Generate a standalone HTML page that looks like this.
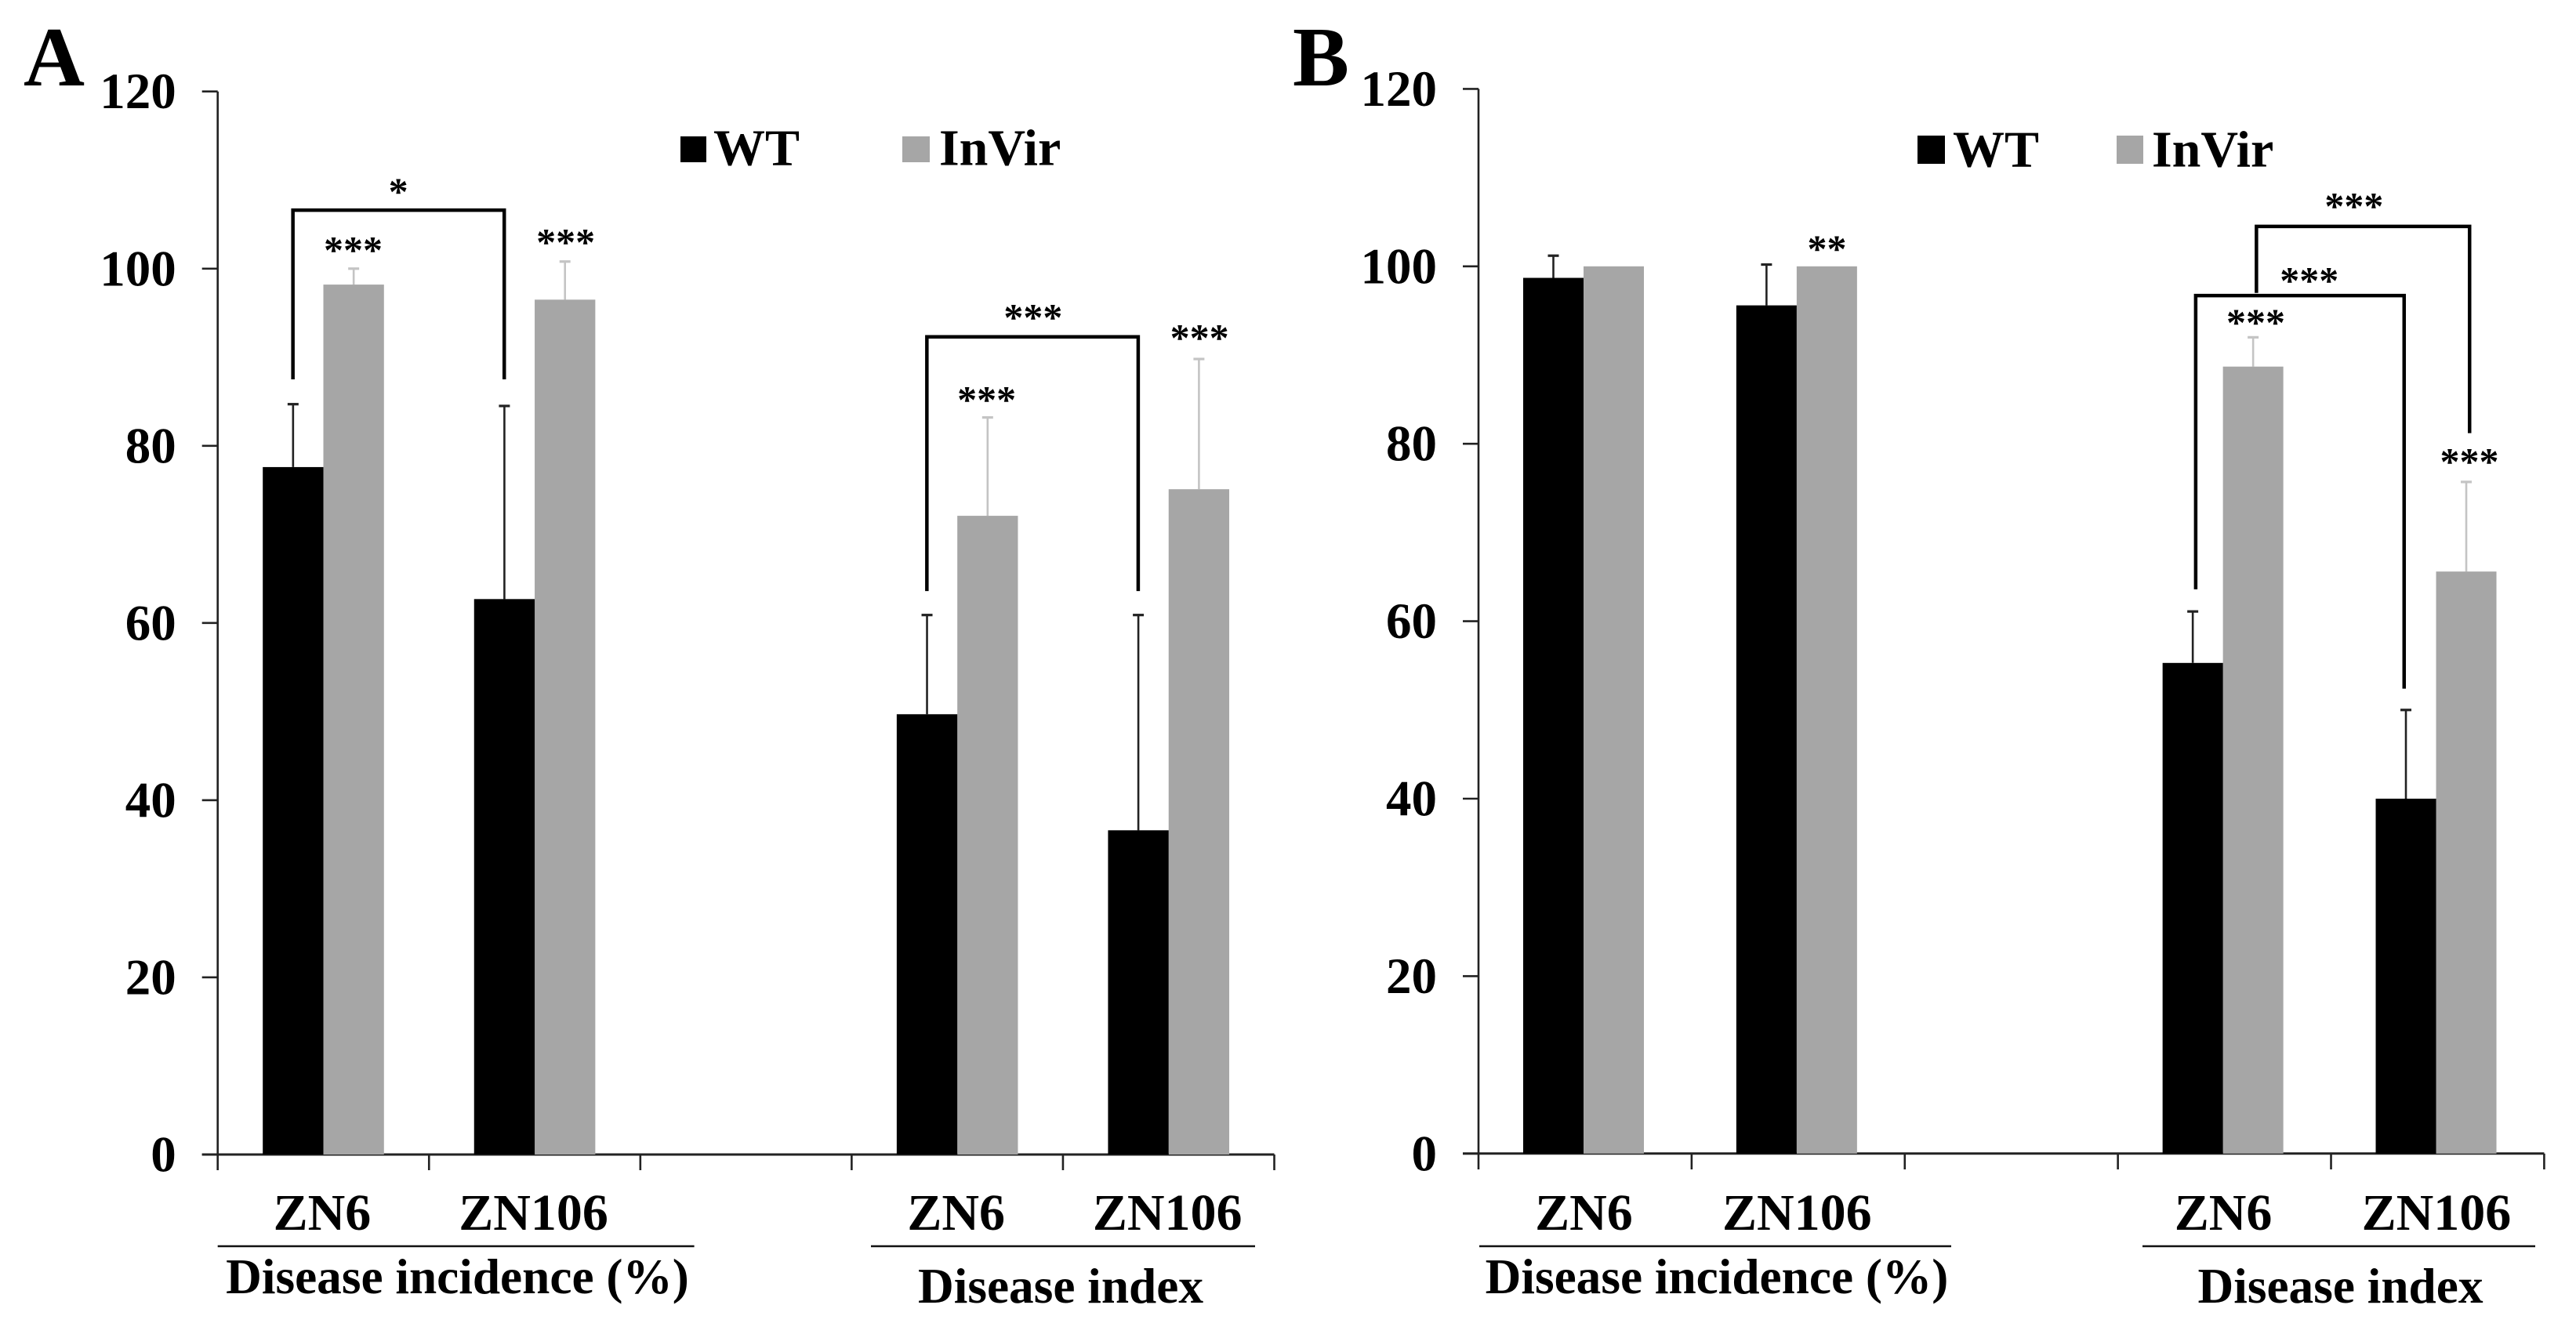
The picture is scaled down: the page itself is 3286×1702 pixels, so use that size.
<!DOCTYPE html>
<html lang="en">
<head>
<meta charset="utf-8">
<title>Disease incidence and disease index, WT vs InVir</title>
<style>
  html, body { margin: 0; padding: 0; background: #fff; }
  svg { display: block; }
  text { font-family: "Liberation Serif", serif; fill: #000; font-weight: bold; }
  .big { font-size: 66px; }
  .title { font-size: 63.3px; }
  .letter { font-size: 108px; }
</style>
</head>
<body>
<svg id="figure" xmlns="http://www.w3.org/2000/svg" width="3286" height="1702" viewBox="0 0 3286 1702">
  <rect x="0" y="0" width="3286" height="1702" fill="#fff"/>
  <text class="letter" x="30" y="109">A</text>
  <text class="letter" x="1649" y="109">B</text>

  <g>
    <rect x="868" y="174" width="33" height="33" fill="#000"/>
    <text class="big" x="910" y="210.5">WT</text>
    <rect x="1151" y="174" width="35" height="33" fill="#a6a6a6"/>
    <text class="big" x="1198" y="210.5">InVir</text>
  </g>
  <g>
    <rect x="2446" y="173" width="35" height="36" fill="#000"/>
    <text class="big" x="2491" y="212.5">WT</text>
    <rect x="2700" y="173" width="34" height="36" fill="#a6a6a6"/>
    <text class="big" x="2745" y="212.5">InVir</text>
  </g>

  <g>
    <line x1="277.7" y1="1590" x2="885.6" y2="1590" stroke="#111" stroke-width="2.5"/>
    <line x1="1111" y1="1590" x2="1601" y2="1590" stroke="#111" stroke-width="2.5"/>
    <text class="title" x="583.5" y="1650" text-anchor="middle">Disease incidence (%)</text>
    <text class="title" x="1353" y="1662" text-anchor="middle">Disease index</text>
  </g>
  <g>
    <line x1="1887" y1="1590" x2="2489" y2="1590" stroke="#111" stroke-width="2.5"/>
    <line x1="2733" y1="1590" x2="3234" y2="1590" stroke="#111" stroke-width="2.5"/>
    <text class="title" x="2190" y="1650" text-anchor="middle">Disease incidence (%)</text>
    <text class="title" x="2985.5" y="1662" text-anchor="middle">Disease index</text>
  </g>
  <g id="plot"></g>
</svg>
<script>
// ---- shared labels ----
const yTickLabels = [0, 20, 40, 60, 80, 100, 120];
const cultivars = ["ZN6", "ZN106", "", "ZN6", "ZN106"];

// ---- panel A values (percent); null = empty category ----
const aWT        = [77.6, 62.7, null, 49.7, 36.6];
const aWTTop     = [84.7, 84.5, null, 60.9, 60.9];
const aInVir     = [98.2, 96.5, null, 72.1, 75.1];
const aInVirTop  = [100.0, 100.8, null, 83.2, 89.8];
const aStarText  = ["*", "***", "***", "***", "***", "***"];
const aStarGroup = [0.855, 0.641, 1.647, 3.859, 4.646, 3.639];
const aStarValue = [109.3, 102.7, 103.6, 95.1, 92.8, 85.8];
const aBrFrom    = [0, 3];
const aBrTo      = [1, 4];
const aBrLevel   = [106.6, 92.3];
const aBrLegEnd  = [87.5, 63.6];

// ---- panel B values (percent) ----
const bWT        = [98.7, 95.6, null, 55.3, 40.0];
const bWTTop     = [101.2, 100.2, null, 61.1, 50.0];
const bInVir     = [100.0, 100.0, null, 88.7, 65.6];
const bInVirTop  = [100.0, 100.0, null, 92.0, 75.7];
const bStarText  = ["**", "***", "***", "***", "***"];
const bStarGroup = [1.635, 4.108, 3.898, 3.647, 4.649];
const bStarValue = [102.6, 107.4, 99.0, 94.3, 78.6];
const bBrFromPos = [3.365, 3.65];
const bBrToPos   = [4.343, 4.65];
const bBrLevel   = [96.7, 104.5];
const bBrLegEndL = [63.6, 97.0];
const bBrLegEndR = [52.4, 81.2];

const NS = "http://www.w3.org/2000/svg";
const plot = document.getElementById("plot");

function makeY(y0, y120) { return v => y0 - v * (y0 - y120) / 120; }
function makeX(x0, step) { return g => x0 + g * step; }

function line(parent, x1, y1, x2, y2, stroke, w) {
  const n = document.createElementNS(NS, "line");
  n.setAttribute("x1", x1); n.setAttribute("y1", y1);
  n.setAttribute("x2", x2); n.setAttribute("y2", y2);
  n.setAttribute("stroke", stroke); n.setAttribute("stroke-width", w);
  parent.appendChild(n);
  return n;
}
function group(parent) {
  const g = document.createElementNS(NS, "g");
  parent.appendChild(g);
  return g;
}

function drawAxes(p, key, x, y) {
  const g = group(plot);
  
  
  const yAxis = line(g, x(0), y(120), x(0), p.tickBottom, "#222", 2.6);
  
  
  const xAxis = line(g, x(0) - 20, y(0), x(cultivars.length), y(0), "#222", 3);
  
  
  yTickLabels.forEach(v => {
    const t = line(g, x(0) - 20, y(v), x(0), y(v), "#222", 2.6);
    
    
    const lab = document.createElementNS(NS, "text");
    lab.setAttribute("x", x(0) - 53);
    lab.setAttribute("y", y(v) + 21.5);
    lab.setAttribute("text-anchor", "end");
    lab.setAttribute("font-size", "65");
    lab.textContent = v;
    
    
    g.appendChild(lab);
  });
  for (let i = 1; i <= cultivars.length; i++) {
    const t = line(g, x(i), y(0), x(i), p.tickBottom, "#222", 2.6);
    
    
  }
  cultivars.forEach((c, i) => {
    if (!c) return;
    const lab = document.createElementNS(NS, "text");
    lab.setAttribute("x", x(i + 0.5) - 1.5);
    lab.setAttribute("y", 1569);
    lab.setAttribute("text-anchor", "middle");
    lab.setAttribute("font-size", "66");
    lab.textContent = c;
    
    
    g.appendChild(lab);
  });
}

function drawSeries(p, key, seriesName, values, tops, offset, fill, errColor, x, y) {
  const g = group(plot);
  
  
  values.forEach((v, i) => {
    if (v === null) return;
    const left = x(i) + p.barGap + offset * p.barW;
    const cx = left + p.barW / 2;
    if (tops[i] > v) {
      const stem = line(g, cx, y(v), cx, y(tops[i]), errColor, 2.6);
      
      
      const cap = line(g, cx - 7, y(tops[i]), cx + 7, y(tops[i]), errColor, 3.2);
      
      
    }
    const r = document.createElementNS(NS, "rect");
    r.setAttribute("x", left);
    r.setAttribute("y", y(v));
    r.setAttribute("width", p.barW);
    r.setAttribute("height", y(0) - y(v));
    r.setAttribute("fill", fill);
    
    
    g.appendChild(r);
  });
}

function drawBracket(key, x, y, fromPos, toPos, level, endL, endR) {
  const path = document.createElementNS(NS, "path");
  path.setAttribute("d", "M" + x(fromPos) + " " + y(endL) + " V" + y(level) + " H" + x(toPos) + " V" + y(endR));
  path.setAttribute("fill", "none");
  path.setAttribute("stroke", "#000");
  path.setAttribute("stroke-width", "4.5");
  
  
  plot.appendChild(path);
}

function drawStars(key, x, y, texts, groups, values) {
  texts.forEach((s, i) => {
    const t = document.createElementNS(NS, "text");
    t.setAttribute("x", x(groups[i]));
    t.setAttribute("y", y(values[i]) + 23.5);
    t.setAttribute("text-anchor", "middle");
    t.setAttribute("font-size", "50");
    t.textContent = s;
    
    
    plot.appendChild(t);
  });
}

// ---- panel A ----
const pA = { barGap: 57.5, barW: 77.3, tickBottom: 1493 };
const xA = makeX(277.7, 269.56);
const yA = makeY(1473, 116.7);
drawAxes(pA, "a", xA, yA);
drawSeries(pA, "a", "invir", aInVir, aInVirTop, 1, "#a6a6a6", "#c4c4c4", xA, yA);
drawSeries(pA, "a", "wt", aWT, aWTTop, 0, "#000", "#222", xA, yA);
aBrFrom.forEach((f, i) => drawBracket("a", xA, yA, f + 0.356, aBrTo[i] + 0.356, aBrLevel[i], aBrLegEnd[i], aBrLegEnd[i]));
drawStars("a", xA, yA, aStarText, aStarGroup, aStarValue);

// ---- panel B ----
const pB = { barGap: 57, barW: 77, tickBottom: 1492 };
const xB = makeX(1886, 271.88);
const yB = makeY(1471.8, 113.4);
drawAxes(pB, "b", xB, yB);
drawSeries(pB, "b", "invir", bInVir, bInVirTop, 1, "#a6a6a6", "#c4c4c4", xB, yB);
drawSeries(pB, "b", "wt", bWT, bWTTop, 0, "#000", "#222", xB, yB);
bBrFromPos.forEach((f, i) => drawBracket("b", xB, yB, f, bBrToPos[i], bBrLevel[i], bBrLegEndL[i], bBrLegEndR[i]));
drawStars("b", xB, yB, bStarText, bStarGroup, bStarValue);
</script>
</body>
</html>
